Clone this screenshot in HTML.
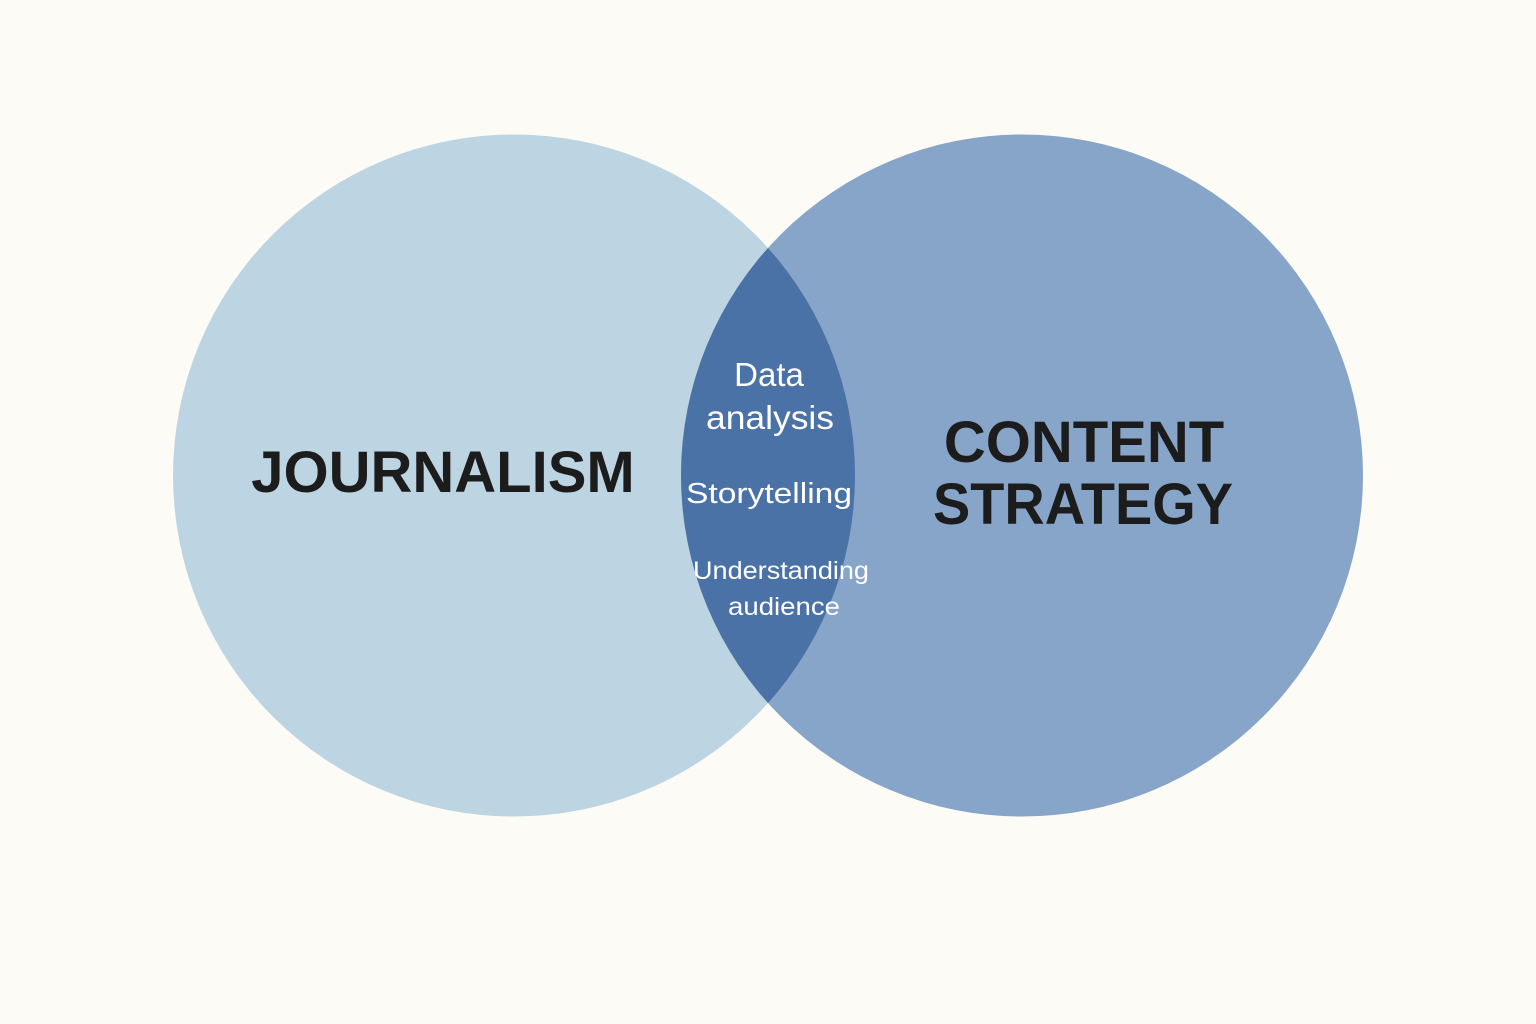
<!DOCTYPE html>
<html><head><meta charset="utf-8"><style>
html,body{margin:0;padding:0;background:#fcfbf6;}
svg{display:block}
</style></head><body>
<svg width="1536" height="1024" viewBox="0 0 1536 1024" xmlns="http://www.w3.org/2000/svg">
<defs>
<clipPath id="cl"><circle cx="514" cy="475.5" r="341"/></clipPath>
</defs>
<rect width="1536" height="1024" fill="#fcfbf6"/>
<circle cx="514" cy="475.5" r="341" fill="#bdd4e2"/>
<circle cx="1022" cy="475.5" r="341" fill="#87a5c8"/>
<circle cx="1022" cy="475.5" r="341" fill="#4a72a6" clip-path="url(#cl)"/>
<g font-family="Liberation Sans, sans-serif" font-weight="bold" fill="#1c1c1c" text-anchor="middle">
<text x="443" y="492" font-size="58">JOURNALISM</text>
<text x="1084" y="462" font-size="58">CONTENT</text>
<text x="1083" y="524" font-size="58" textLength="300" lengthAdjust="spacingAndGlyphs">STRATEGY</text>
</g>
<g font-family="Liberation Sans, sans-serif" fill="#ffffff" text-anchor="middle">
<text x="769" y="386" font-size="33">Data</text>
<text x="770" y="429" font-size="33" textLength="128" lengthAdjust="spacingAndGlyphs">analysis</text>
<text x="769" y="503" font-size="29" textLength="166" lengthAdjust="spacingAndGlyphs">Storytelling</text>
<text x="781" y="579" font-size="25" textLength="176" lengthAdjust="spacingAndGlyphs">Understanding</text>
<text x="784" y="615" font-size="25" textLength="112" lengthAdjust="spacingAndGlyphs">audience</text>
</g>
</svg>
</body></html>
